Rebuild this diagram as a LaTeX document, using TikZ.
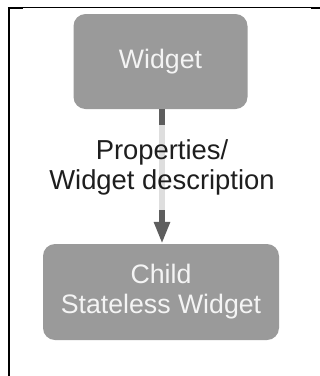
\documentclass[tikz,border=0pt]{standalone}
\usepackage{fontspec}
\setmainfont{Liberation Sans}
\usetikzlibrary{arrows.meta}
\definecolor{boxgray}{HTML}{9A9A9A}
\definecolor{boxtext}{HTML}{F4F4F4}
\definecolor{linkgray}{HTML}{5E5E5E}
\definecolor{labeltext}{HTML}{1E1E1E}
\begin{document}
\begin{tikzpicture}[x=1pt,y=-1pt,
  box/.style={draw=none, fill=boxgray, rounded corners=12pt, text=boxtext,
    font=\fontsize{26.7}{30}\selectfont, align=center, inner sep=0pt},
  link/.style={draw=linkgray, line width=6.5pt,
    -{Triangle[length=22pt,width=15pt]}},
  desc/.style={fill=white, fill opacity=0.8, text opacity=1, text=labeltext,
    font=\fontsize{27.4}{30}\selectfont, align=center, inner xsep=4pt,
    minimum height=85pt}]
\useasboundingbox (0,0) rectangle (320,376);
% frame edges (top and left only)
\draw[line width=1pt] (8,7.5) -- (320,7.5);
\draw[line width=1.7pt] (8.8,7) -- (8.8,376);
\fill (8,7) rectangle (23,9);
\fill (311,7) rectangle (320,9);
% boxes
\node[box, minimum width=174pt, minimum height=95pt] (widget) at (160.5,61.5) {Widget};
\node[box, minimum width=236pt, minimum height=96pt] (child) at (161,292) {Child\\Stateless Widget};
% connector with its label
\draw[link] ([xshift=1.5pt]widget.south) -- ([xshift=1pt]child.north)
  node[desc, pos=0.43] (lbl) {Properties/\\Widget description};
\end{tikzpicture}
\end{document}
